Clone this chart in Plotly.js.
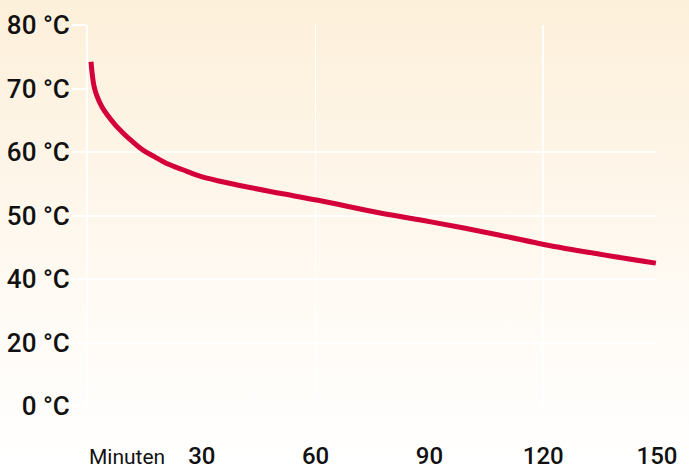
<!DOCTYPE html>
<html>
<head>
<meta charset="utf-8">
<script src="https://cdn.plot.ly/plotly-3.0.1.min.js"></script>
<style>
  html, body { margin:0; padding:0; }
  body { width:689px; height:471px; overflow:hidden;
         background: linear-gradient(to bottom, #fdf0da 0%, #fef6ea 40%, #fffcf8 75%, #ffffff 100%); }
  #chart { width:689px; height:471px; }
</style>
</head>
<body>
<div id="chart"></div>
<script>
// Time in minutes and water temperature in °C
const minutes = [0.79, 1.05, 1.58, 2.37, 3.69, 5.27, 7.12, 9.23, 11.6, 14.5, 17.7, 21.1, 25.0, 29.5, 34.8, 42.7, 50.6, 60.6, 77, 90.4, 108.6, 120.5, 135, 149.7];
const temps   = [74.2, 72.6, 70.4, 68.8, 67.1, 65.7, 64.3, 63.0, 61.7, 60.3, 59.2, 58.1, 57.2, 56.2, 55.4, 54.4, 53.5, 52.4, 50.4, 49.0, 46.9, 45.4, 43.9, 42.5];

// Axis ticks (the y scale is compressed below 40 °C: 20 °C and 0 °C sit at 30 and 20 positions)
const xTickVals = [30, 60, 90, 120, 150];
const xTickText = ['30', '60', '90', '120', '150'];
const xGridVals = [60, 120];
const yTickVals = [80, 70, 60, 50, 40, 30, 20];
const yTickText = ['80 °C', '70 °C', '60 °C', '50 °C', '40 °C', '20 °C', '0 °C'];
const yGridVals = [60, 50, 40, 30, 20];
const xLabel = 'Minuten';

const trace = {
  x: minutes, y: temps, type: 'scatter', mode: 'lines',
  line: { color: '#d4003a', width: 5, shape: 'spline', smoothing: 1 },
  hoverinfo: 'skip'
};

const layout = {
  width: 689, height: 471,
  margin: { l: 88, r: 32, t: 25, b: 65 },
  paper_bgcolor: 'rgba(0,0,0,0)',
  plot_bgcolor: 'rgba(0,0,0,0)',
  showlegend: false,
  font: { family: 'Roboto, sans-serif', color: '#111' },
  xaxis: {
    range: [0, 150], tickvals: xTickVals, ticktext: xTickText,
    showgrid: false, zeroline: false, showline: false,
    ticks: 'outside', ticklen: 28, tickcolor: 'rgba(0,0,0,0)',
    tickfont: { size: 24, weight: 500, color: '#111' }
  },
  xaxis2: {
    range: [0, 150], overlaying: 'x', tickvals: xGridVals,
    showgrid: true, gridcolor: 'rgba(255,255,255,0.9)', gridwidth: 1.5,
    showticklabels: false, zeroline: false, showline: false
  },
  yaxis: {
    range: [20, 80], tickvals: yTickVals, ticktext: yTickText,
    showgrid: false, zeroline: false,
    showline: true, linecolor: '#ffffff', linewidth: 2,
    ticks: 'outside', ticklen: 15, tickwidth: 2, tickcolor: '#ffffff',
    ticklabelstandoff: -4,
    tickfont: { size: 26, weight: 500, color: '#111' }
  },
  yaxis2: {
    range: [20, 80], overlaying: 'y', tickvals: yGridVals,
    showgrid: true, gridcolor: '#ffffff', gridwidth: 2,
    showticklabels: false, zeroline: false, showline: false
  },
  annotations: [{
    text: xLabel, xref: 'x', yref: 'paper', x: 10.2, y: -0.17,
    xanchor: 'center', yanchor: 'bottom', showarrow: false,
    font: { size: 21, color: '#111' }
  }]
};

const gridTrace = { x: [0], y: [20], xaxis: 'x2', yaxis: 'y2', mode: 'markers',
  marker: { opacity: 0 }, hoverinfo: 'skip' };

Plotly.newPlot('chart', [gridTrace, trace], layout, { staticPlot: true, displayModeBar: false });
</script>
</body>
</html>
